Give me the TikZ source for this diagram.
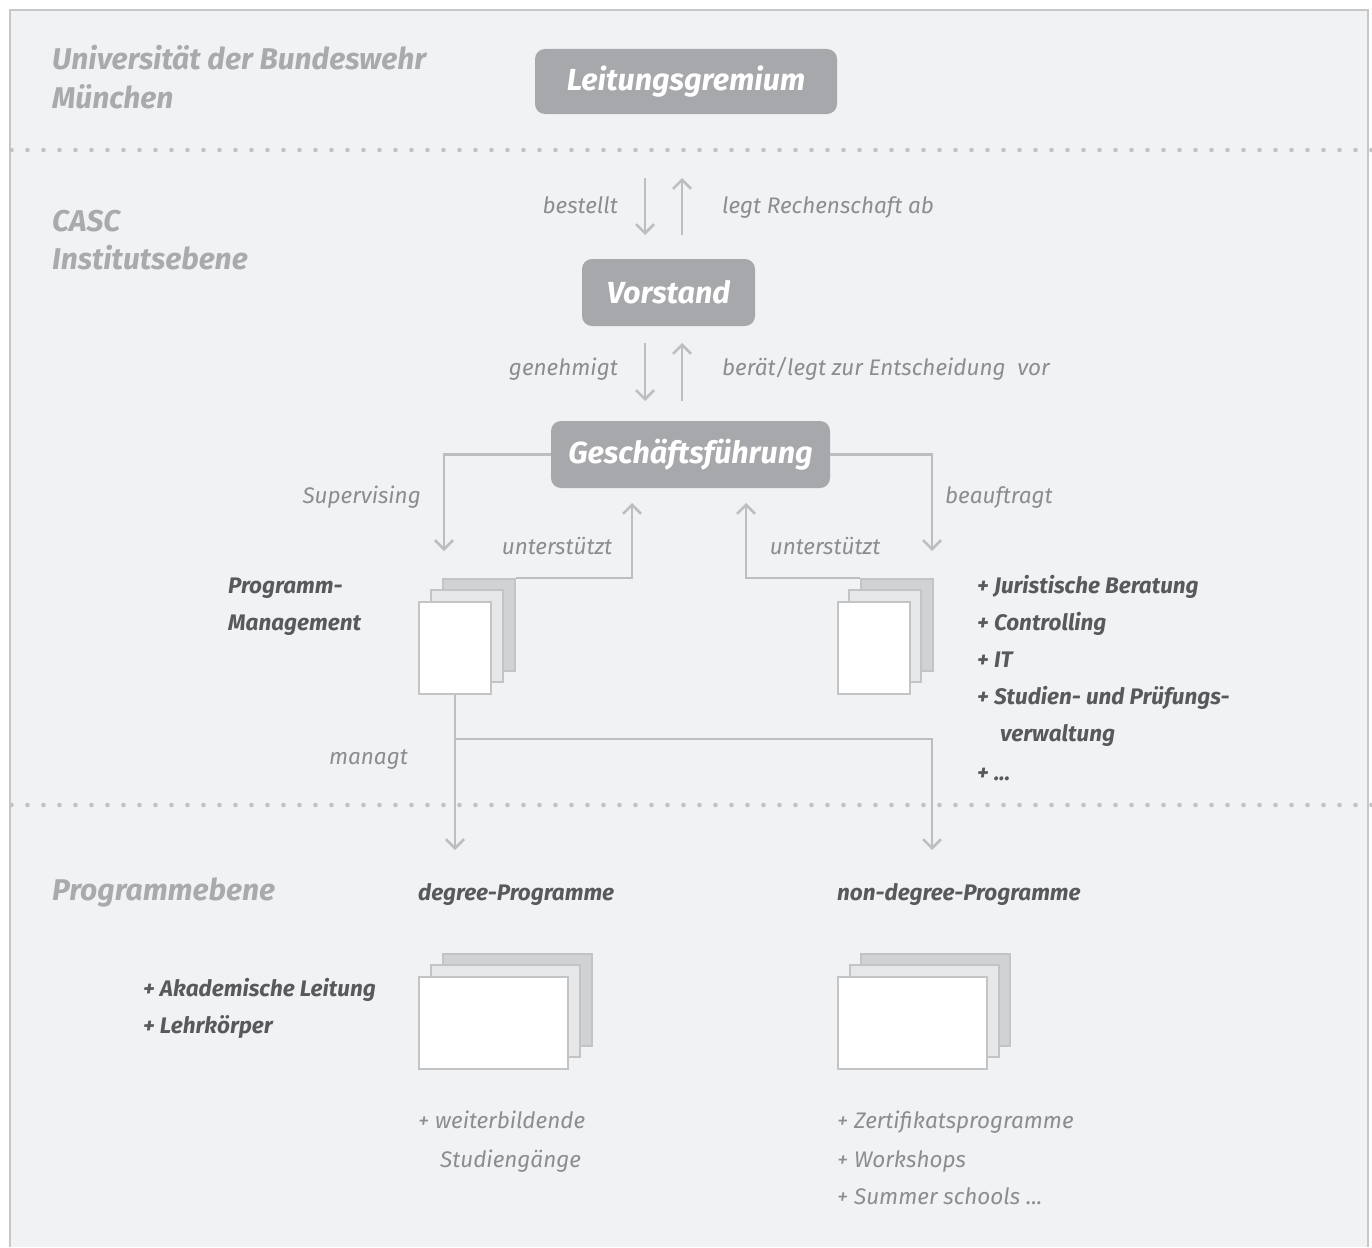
\documentclass[tikz,border=0pt]{standalone}
\usepackage{fontspec}
\setmainfont{Fira Sans}
\usetikzlibrary{arrows.meta}
\definecolor{bg}{HTML}{F1F2F4}
\definecolor{framecol}{HTML}{C6C7C9}
\definecolor{boxfill}{HTML}{A7A8AB}
\definecolor{sect}{HTML}{A9AAAD}
\definecolor{lbl}{HTML}{8C8D90}
\definecolor{dark}{HTML}{58595B}
\definecolor{conn}{HTML}{BDBEC0}
\definecolor{dotcol}{HTML}{C2C3C5}
\definecolor{pgback}{HTML}{D1D2D4}
\definecolor{pgmid}{HTML}{E6E7E9}
\definecolor{pgline}{HTML}{C3C4C6}
\begin{document}
\begin{tikzpicture}[x=1pt,y=-1pt,
  headbox/.style={fill=boxfill, rounded corners=10pt, text=white, inner sep=0pt,
    font=\fontsize{30.5}{36}\selectfont\bfseries\itshape},
  secttext/.style={text=sect, inner sep=0pt, anchor=base west, align=left,
    font=\fontsize{30}{38}\selectfont\bfseries\itshape},
  lbltext/.style={text=lbl, inner sep=0pt, font=\fontsize{22.5}{37}\selectfont\itshape},
  darktext/.style={text=dark, inner sep=0pt, anchor=base west, font=\fontsize{22.5}{37}\selectfont\bfseries\itshape},
  arr/.style={draw=conn, line width=2.6pt, -{Straight Barb[length=9pt,width=18pt,line width=2.6pt]}},
  pgB/.style={draw=pgline, line width=2pt, fill=pgback, inner sep=0pt},
  pgM/.style={draw=pgline, line width=2pt, fill=pgmid, inner sep=0pt},
  pgF/.style={draw=pgline, line width=2pt, fill=white, inner sep=0pt},
  dotline/.style={draw=dotcol, line width=4.6pt, line cap=round, dash pattern=on 0pt off 16pt}
]
\useasboundingbox (0,0) rectangle (1372,1247);
\fill[white] (0,0) rectangle (1372,1247);
\fill[bg] (10,10) rectangle (1368,1247);
\draw[framecol, line width=2.6pt] (10,1247) -- (10,10) -- (1368,10) -- (1368,1247);

% dotted separators
\draw[dotline] (11.5,150) -- (1372,150);
\draw[dotline] (11.5,805) -- (1372,805);

% section labels
\node[secttext] (s1) at (52,70) {Universität der Bundeswehr};
\node[secttext] (s2) at (52,108) {München};
\node[secttext] (s3) at (52,231) {CASC};
\node[secttext] (s4) at (52,269) {Institutsebene};
\node[secttext] (s5) at (52,900) {Programmebene};

% main boxes
\node[headbox, minimum width=302pt, minimum height=65pt] (lg) at (686,81.5) {Leitungsgremium};
\node[headbox, minimum width=173pt, minimum height=67pt] (vs) at (668.5,292.5) {Vorstand};
\node[headbox, minimum width=279pt, minimum height=67pt] (gf) at (690.5,454.5) {Geschäftsführung};

% arrows between Leitungsgremium and Vorstand
\coordinate (a1s) at (645,178); \coordinate (a1e) at (645,235);
\coordinate (a2s) at (682,235); \coordinate (a2e) at (682,178);
\draw[arr] (a1s) -- (a1e);
\draw[arr] (a2s) -- (a2e);
\node[lbltext, anchor=base east] (l1) at (618,213) {bestellt};
\node[lbltext, anchor=base west] (l2) at (722,213) {legt Rechenschaft ab};

% arrows between Vorstand and Geschäftsführung
\coordinate (b1s) at (645,343); \coordinate (b1e) at (645,401);
\coordinate (b2s) at (682,401); \coordinate (b2e) at (682,343);
\draw[arr] (b1s) -- (b1e);
\draw[arr] (b2s) -- (b2e);
\node[lbltext, anchor=base east] (l3) at (618,375) {genehmigt};
\node[lbltext, anchor=base west] (l4) at (722,375) {berät/legt zur Entscheidung\ \ vor};

% page stacks: Programm-Management
\node[pgB, minimum width=72pt, minimum height=92pt] (pmB) at (479,625) {};
\node[pgM, minimum width=72pt, minimum height=92pt] (pmM) at (467,636) {};
\node[pgF, minimum width=72pt, minimum height=92pt] (pmF) at (455,648) {};
% page stacks: services
\node[pgB, minimum width=72pt, minimum height=92pt] (svB) at (897,625) {};
\node[pgM, minimum width=72pt, minimum height=92pt] (svM) at (885,636) {};
\node[pgF, minimum width=72pt, minimum height=92pt] (svF) at (874,648) {};

% degree stacks
\node[pgB, minimum width=149pt, minimum height=92pt] (dgB) at (517,999.5) {};
\node[pgM, minimum width=149pt, minimum height=92pt] (dgM) at (505,1010.5) {};
\node[pgF, minimum width=149pt, minimum height=92pt] (dgF) at (493.5,1022.5) {};
\node[pgB, minimum width=149pt, minimum height=92pt] (ndB) at (935.5,999.5) {};
\node[pgM, minimum width=149pt, minimum height=92pt] (ndM) at (924,1010.5) {};
\node[pgF, minimum width=149pt, minimum height=92pt] (ndF) at (912.5,1022.5) {};

% Geschäftsführung connectors
\coordinate (supE) at (444,551);
\coordinate (beaE) at (932,551);
\draw[arr] (gf.west) -| (supE);
\draw[arr] (gf.east) -| (beaE);
\node[lbltext, anchor=base east] (l5) at (421,503) {Supervising};
\node[lbltext, anchor=base west] (l6) at (945,503) {beauftragt};

\coordinate (us1) at (632,503);
\coordinate (us2) at (746,503);
\draw[arr] (pmB.north east) -| (us1);
\draw[arr] (svB.north west) -| (us2);
\node[lbltext, anchor=base] (l7) at (557,554) {unterstützt};
\node[lbltext, anchor=base] (l8) at (825,554) {unterstützt};

% managt
\coordinate (mj) at (455,739);
\coordinate (m1) at (455,850);
\coordinate (m2) at (932,850);
\draw[arr] (pmF.south) -- (m1);
\draw[arr] (mj) -| (m2);
\node[lbltext, anchor=base east] (l9) at (408,764) {managt};

% dark texts
\node[darktext] (pm1) at (228,593) {Programm-};
\node[darktext] (pm2) at (228,630) {Management};
\node[darktext] (r1) at (977,593) {+ Juristische Beratung};
\node[darktext] (r2) at (977,630) {+ Controlling};
\node[darktext] (r3) at (977,667) {+ IT};
\node[darktext] (r4) at (977,704) {+ Studien- und Prüfungs-};
\node[darktext] (r5) at (1000,741) {verwaltung};
\node[darktext] (r6) at (977,780) {+ ...};
\node[darktext] (dg) at (418,900) {degree-Programme};
\node[darktext] (nd) at (837,900) {non-degree-Programme};
\node[darktext] (ak1) at (143,996) {+ Akademische Leitung};
\node[darktext] (ak2) at (143,1033) {+ Lehrkörper};

% light texts below stacks
\node[lbltext, anchor=base west] (w1) at (418,1128) {+ weiterbildende};
\node[lbltext, anchor=base west] (w2) at (440,1167) {Studiengänge};
\node[lbltext, anchor=base west] (z1) at (837,1128) {+ Zertifikatsprogramme};
\node[lbltext, anchor=base west] (z2) at (837,1167) {+ Workshops};
\node[lbltext, anchor=base west] (z3) at (837,1204) {+ Summer schools ...};
\end{tikzpicture}
\end{document}
